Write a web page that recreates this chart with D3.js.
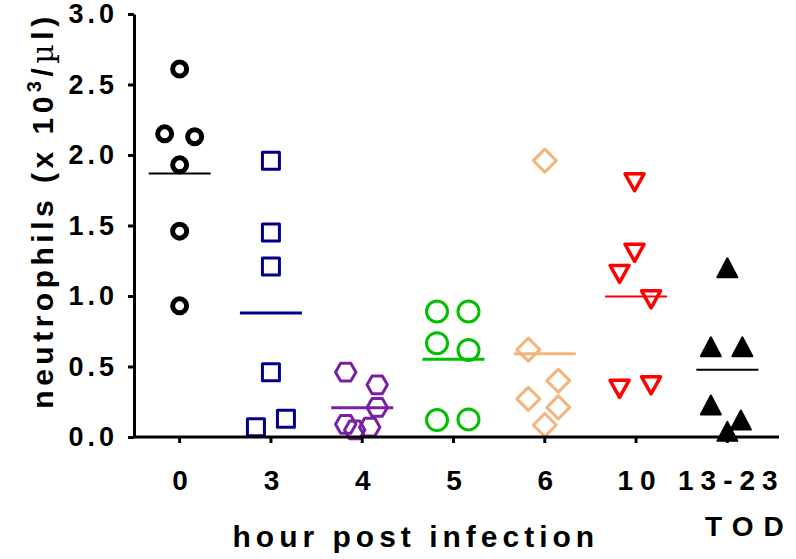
<!DOCTYPE html>
<html><head><meta charset="utf-8">
<script src="https://cdn.jsdelivr.net/npm/d3@7"></script>
<style>
html,body{margin:0;padding:0;background:#fff;}
text{font-family:"Liberation Sans",Arial,sans-serif;font-weight:bold;fill:#000;}
</style></head>
<body>
<svg id="chart" width="796" height="559"></svg>
<script>
// ---- data ----
const categories = ["0", "3", "4", "5", "6", "10", "13-23"];
const values0   = [2.61, 2.15, 2.13, 1.93, 1.46, 0.93];
const values3   = [1.96, 1.45, 1.21, 0.46, 0.07, 0.13];
const values4   = [0.46, 0.37, 0.21, 0.09, 0.05, 0.07];
const values5   = [0.89, 0.89, 0.665, 0.617, 0.12, 0.125];
const values6   = [1.96, 0.62, 0.40, 0.27, 0.21, 0.085];
const values10  = [1.81, 1.31, 1.16, 0.98, 0.345, 0.37];
const valuesTOD = [1.20, 0.64, 0.64, 0.227, 0.12, 0.04];
// horizontal scatter (dodge) slots, in symbol-width units
const jitter0   = [0, -1, 1, 0, 0, 0];
const jitter3   = [0, 0, 0, 0, -1, 1];
const jitter4   = [-1.1, 1, 1, -1.1, -0.5, 0.5];
const jitter5   = [-1.1, 1, -1.1, 1, -1.1, 1];
const jitter6   = [0, -1.1, 0.9, -1.1, 0.9, 0];
const jitter10  = [-0.1, -0.1, -1.1, 1, -1.1, 1];
const jitterTOD = [0, -1.1, 1, -1.1, 0.9, 0];
const yTickValues = [0, 0.5, 1.0, 1.5, 2.0, 2.5, 3.0];
const xTitle = "hour post infection";
const xSubTitle = "TOD";

const groups = [
  {cat: "0",     vals: values0,   jit: jitter0,   sym: "circleS", color: "#000000", lw: 2},
  {cat: "3",     vals: values3,   jit: jitter3,   sym: "square",  color: "#00008B", lw: 3},
  {cat: "4",     vals: values4,   jit: jitter4,   sym: "hexagon", color: "#7B1FA2", lw: 3},
  {cat: "5",     vals: values5,   jit: jitter5,   sym: "circleL", color: "#00C000", lw: 3},
  {cat: "6",     vals: values6,   jit: jitter6,   sym: "diamond", color: "#F4B57D", lw: 3},
  {cat: "10",    vals: values10,  jit: jitter10,  sym: "triDown", color: "#FF0000", lw: 2},
  {cat: "13-23", vals: valuesTOD, jit: jitterTOD, sym: "triUp",   color: "#000000", lw: 2}
];

// ---- layout ----
const svg = d3.select("#chart");
const plotLeft = 134, plotRight = 773, axisEnd = 779, plotTop = 14, plotBottom = 437;

const x = d3.scaleBand().domain(categories).range([plotLeft, plotRight]);
const cx = c => x(c) + x.bandwidth() / 2;
const y = d3.scaleLinear().domain([0, 3]).range([plotBottom, plotTop]);
const jx = d3.scaleLinear().domain([-1, 1]).range([-15, 15]);

// symbol paths
function symPath(type) {
  const p = d3.path();
  switch (type) {
    case "circleS": p.arc(0, 0, 7, 0, 2 * Math.PI); break;
    case "circleL": p.arc(0, 0, 10.5, 0, 2 * Math.PI); break;
    case "square": p.rect(-8.5, -8.5, 17, 17); break;
    case "hexagon": {
      const R = 10.2;
      for (let i = 0; i < 6; i++) {
        const a = Math.PI / 3 * i;
        const px = R * Math.cos(a), py = R * Math.sin(a);
        if (i === 0) p.moveTo(px, py); else p.lineTo(px, py);
      }
      p.closePath(); break;
    }
    case "diamond": p.moveTo(0, -11.5); p.lineTo(11.5, 0); p.lineTo(0, 11.5); p.lineTo(-11.5, 0); p.closePath(); break;
    case "triDown": p.moveTo(-9.5, -8); p.lineTo(9.5, -8); p.lineTo(0, 9); p.closePath(); break;
    case "triUp": p.moveTo(0, -9.5); p.lineTo(10, 9.5); p.lineTo(-10, 9.5); p.closePath(); break;
  }
  return p.toString();
}
const symStyle = {
  circleS: {fill: "none", sw: 5},
  circleL: {fill: "none", sw: 3},
  square:  {fill: "none", sw: 3},
  hexagon: {fill: "none", sw: 3},
  diamond: {fill: "none", sw: 3},
  triDown: {fill: "none", sw: 3.5},
  triUp:   {fill: "fill", sw: 2}
};

// mean lines
const meanG = svg.append("g");
groups.forEach(g => {
  const m = d3.mean(g.vals);
  meanG.append("line")
    .attr("x1", cx(g.cat) - 31).attr("x2", cx(g.cat) + 31)
    .attr("y1", y(m)).attr("y2", y(m))
    .attr("stroke", g.color).attr("stroke-width", g.lw);
});

// points
groups.forEach(g => {
  const st = symStyle[g.sym];
  svg.append("g").selectAll("path")
    .data(g.vals.map((v, i) => ({v, j: g.jit[i]})))
    .join("path")
    .attr("d", symPath(g.sym))
    .attr("transform", d => `translate(${cx(g.cat) + jx(d.j)},${y(d.v)})`)
    .attr("fill", st.fill === "fill" ? g.color : "none")
    .attr("stroke", g.color)
    .attr("stroke-width", st.sw)
    .attr("stroke-linejoin", "round");
});

// y axis
const yAxis = svg.append("g").attr("transform", `translate(${plotLeft},0)`)
  .call(d3.axisLeft(y).tickValues(yTickValues).tickFormat(d3.format(".1f")).tickSize(6).tickSizeOuter(0).tickPadding(10));
yAxis.select(".domain").attr("stroke-width", 3).attr("stroke", "#000");
yAxis.selectAll(".tick line").attr("stroke-width", 3).attr("stroke", "#000");
yAxis.selectAll(".tick text")
  .style("font-family", '"Liberation Sans",Arial,sans-serif')
  .style("font-weight", "bold").style("font-size", "27px")
  .style("letter-spacing", "4px").attr("fill", "#000");

// x axis
const xAxis = svg.append("g").attr("transform", `translate(0,${plotBottom})`)
  .call(d3.axisBottom(x).tickSize(6).tickSizeOuter(0).tickPadding(27));
xAxis.select(".domain").attr("d", `M${plotLeft},0H${axisEnd}`).attr("stroke-width", 3).attr("stroke", "#000");
xAxis.selectAll(".tick line").attr("stroke-width", 3).attr("stroke", "#000");
xAxis.selectAll(".tick text")
  .style("font-family", '"Liberation Sans",Arial,sans-serif')
  .style("font-weight", "bold").style("font-size", "28px")
  .style("letter-spacing", "7px").attr("dx", "4px").attr("fill", "#000");

// x title
svg.append("text")
  .attr("x", (cx("0") + cx("10")) / 2 + 8).attr("y", 547)
  .attr("text-anchor", "middle")
  .style("font-size", "30px").style("letter-spacing", "5px")
  .text(xTitle);
svg.append("text")
  .attr("x", cx("13-23") + 22).attr("y", 536)
  .attr("text-anchor", "middle")
  .style("font-size", "28px").style("letter-spacing", "10px")
  .text(xSubTitle);

// y title
const yt = svg.append("text")
  .attr("transform", `translate(53,${(plotTop + plotBottom) / 2 - 15}) rotate(-90)`)
  .attr("text-anchor", "middle")
  .style("font-size", "30px").style("letter-spacing", "4.5px");
yt.append("tspan").text("neutrophils (x 10");
yt.append("tspan").attr("dy", "-12").style("font-size", "20px").text("3");
yt.append("tspan").attr("dy", "12").text("/");
yt.append("tspan").style("font-family", '"DejaVu Serif",serif').style("font-weight", "normal").text("\u00B5");
yt.append("tspan").text("l)");
</script>
</body></html>
